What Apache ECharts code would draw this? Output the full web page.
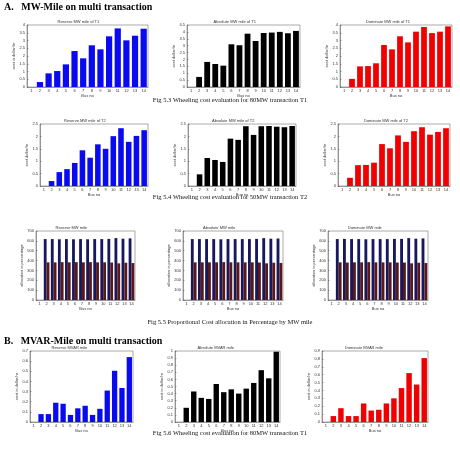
<!DOCTYPE html>
<html>
<head>
<meta charset="utf-8">
<script src="https://cdn.jsdelivr.net/npm/echarts@6/dist/echarts.min.js"></script>
<style>
  html, body { margin: 0; padding: 0; background: #fff; }
  #chart { width: 460px; height: 475px; }
</style>
</head>
<body>
<div id="chart"></div>
<script>
// bus numbers on every x axis
const buses = ['1', '2', '3', '4', '5', '6', '7', '8', '9', '10', '11', '12', '13', '14'];

// MW-mile, transaction T1 (80MW)
const reserveT1 = [0, 0.32, 0.88, 1.03, 1.46, 2.32, 1.85, 2.69, 2.43, 3.27, 3.78, 3.01, 3.31, 3.76];
const absoluteT1 = [0, 0.73, 1.82, 1.67, 1.55, 3.10, 3.03, 3.87, 3.34, 3.92, 3.95, 4.00, 3.90, 4.07];
const dominateT1 = [0, 0.52, 1.33, 1.35, 1.53, 2.71, 2.43, 3.27, 2.88, 3.57, 3.87, 3.48, 3.57, 3.91];

// MW-mile, transaction T2 (50MW)
const reserveT2 = [0, 0.20, 0.56, 0.68, 0.93, 1.44, 1.14, 1.68, 1.50, 2.01, 2.33, 1.78, 2.02, 2.25];
const absoluteT2 = [0, 0.47, 1.13, 1.05, 0.97, 1.91, 1.86, 2.41, 2.06, 2.41, 2.42, 2.39, 2.37, 2.42];
const dominateT2 = [0, 0.33, 0.84, 0.85, 0.94, 1.69, 1.52, 2.04, 1.78, 2.21, 2.37, 2.07, 2.18, 2.33];

// proportional allocation (percentage x10), two transactions per bus
const shareReserveA = [0, 618, 618, 616, 618, 616, 618, 616, 618, 618, 620, 628, 622, 625];
const shareReserveB = [0, 382, 382, 384, 382, 384, 382, 384, 382, 382, 380, 372, 378, 375];
const shareAbsoluteA = [0, 618, 618, 618, 618, 616, 618, 618, 618, 618, 620, 628, 622, 624];
const shareAbsoluteB = [0, 382, 382, 382, 382, 384, 382, 382, 382, 382, 380, 372, 378, 376];
const shareDominateA = [0, 618, 620, 618, 618, 616, 618, 618, 618, 620, 620, 628, 622, 625];
const shareDominateB = [0, 382, 380, 382, 382, 384, 382, 382, 382, 380, 380, 372, 378, 375];

// MVAR-mile, transaction T1
const reserveQ = [0, 0.078, 0.078, 0.19, 0.18, 0.07, 0.135, 0.16, 0.07, 0.13, 0.31, 0.505, 0.335, 0.64];
const absoluteQ = [0, 0.20, 0.43, 0.34, 0.325, 0.535, 0.42, 0.46, 0.40, 0.47, 0.55, 0.73, 0.615, 0.99];
const dominateQ = [0, 0.075, 0.175, 0.075, 0.075, 0.235, 0.145, 0.155, 0.235, 0.30, 0.43, 0.62, 0.475, 0.81];

const serif = '"Liberation Serif", "DejaVu Serif", serif';
const sans = '"Liberation Sans", Arial, sans-serif';

// one panel per small plot
const panels = [
  { box: [27, 25, 121, 62], max: 4, step: 0.5, title: 'Reserve MW mile of T1', yName: 'cost in dollar/hr', series: [[reserveT1, '#0a0af0']] },
  { box: [187, 25, 113, 62], max: 4.5, step: 0.5, title: 'Absolute MW mile of T1', yName: 'cost dollar/hr', series: [[absoluteT1, '#000000']] },
  { box: [340, 25, 112, 62], max: 4, step: 0.5, title: 'Dominate MW mile of T1', yName: 'cost dollar/hr', series: [[dominateT1, '#f00000']] },
  { box: [40, 124, 108, 62], max: 2.5, step: 0.5, title: 'Reserve MW mile of T2', yName: 'cost dollar/hr', series: [[reserveT2, '#0a0af0']] },
  { box: [188, 124, 108, 62], max: 2.5, step: 0.5, title: 'Absolute MW mile of T2', yName: 'cost dollar/hr', series: [[absoluteT2, '#000000']] },
  { box: [338, 124, 112, 62], max: 2.5, step: 0.5, title: 'Dominate MW mile of T2', yName: 'cost dollar/hr', series: [[dominateT2, '#f00000']] },
  { box: [36, 231, 99, 69], max: 700, step: 100, title: 'Reserve MW mile', yName: 'allocation in percentage', series: [[shareReserveA, '#18185e'], [shareReserveB, '#5a1818']] },
  { box: [183, 231, 100, 69], max: 700, step: 100, title: 'Absolute MW mile', yName: 'allocation in percentage', series: [[shareAbsoluteA, '#18185e'], [shareAbsoluteB, '#5a1818']] },
  { box: [328, 231, 100, 69], max: 700, step: 100, title: 'Dominate MW mile', yName: 'allocation in percentage', series: [[shareDominateA, '#18185e'], [shareDominateB, '#5a1818']] },
  { box: [30, 351, 103, 71], max: 0.7, step: 0.1, title: 'Reserve MVAR mile', yName: 'cost in dollar/hr', series: [[reserveQ, '#0a0af0']] },
  { box: [175, 351, 105, 71], max: 1, step: 0.1, title: 'Absolute MVAR mile', yName: 'cost in dollar/hr', series: [[absoluteQ, '#000000']] },
  { box: [322, 351, 106, 71], max: 0.9, step: 0.1, title: 'Dominate MVAR mile', yName: 'cost in dollar/hr', series: [[dominateQ, '#f00000']] }
];

const tiny = { fontSize: 4, color: '#333', fontFamily: sans };

const grid = [], xAxis = [], yAxis = [], series = [], graphic = [];

panels.forEach((p, i) => {
  const [l, t, w, h] = p.box;
  grid.push({ left: l, top: t, width: w, height: h, show: true, borderColor: '#555', borderWidth: 0.5, backgroundColor: '#fff' });
  xAxis.push({
    type: 'category', gridIndex: i, data: buses,
    name: 'Bus no', nameLocation: 'middle', nameGap: 6, nameTextStyle: tiny,
    axisLine: { lineStyle: { color: '#555', width: 0.5 } },
    axisTick: { inside: true, length: 1.5, alignWithLabel: true, lineStyle: { color: '#555', width: 0.5 } },
    axisLabel: { ...tiny, margin: 2, interval: 0 }
  });
  yAxis.push({
    type: 'value', gridIndex: i, min: 0, max: p.max, interval: p.step,
    name: p.yName, nameLocation: 'middle', nameGap: 10, nameRotate: 90, nameTextStyle: tiny,
    axisLine: { show: true, lineStyle: { color: '#555', width: 0.5 } },
    axisTick: { show: true, inside: true, length: 1.5, lineStyle: { color: '#555', width: 0.5 } },
    splitLine: { show: false },
    axisLabel: { ...tiny, margin: 2 }
  });
  const grouped = p.series.length > 1;
  p.series.forEach(([values, color]) => {
    series.push({
      type: 'bar', xAxisIndex: i, yAxisIndex: i, data: values,
      barWidth: grouped ? '40%' : '72%', barGap: '0%',
      itemStyle: { color: color, borderWidth: 0 },
      silent: true, animation: false
    });
  });
  graphic.push({
    type: 'text', left: l + w / 2 - 30, top: t - 5,
    style: { text: p.title, x: 0, y: 0, width: 60, align: 'center', font: '4px ' + sans, fill: '#333' }
  });
});

const caption = (text, y) => ({
  type: 'text', left: 'center', top: y,
  style: { text: text, font: '6.5px ' + serif, fill: '#111' }
});
const heading = (text, y) => ({
  type: 'text', left: 4, top: y,
  style: { text: text, font: 'bold 10px ' + serif, fill: '#000' }
});

graphic.push(
  heading('A.   MW-Mile on multi transaction', 2),
  caption('Fig 5.3 Wheeling cost evaluation for 80MW transaction T1', 97),
  caption('Fig 5.4 Wheeling cost evaluation for 50MW transaction T2', 194),
  caption('Fig 5.5 Proportional Cost allocation in Percentage by MW mile', 319),
  heading('B.   MVAR-Mile on multi transaction', 336),
  caption('Fig 5.6 Wheeling cost evaluation for 80MW transaction T1', 430)
);

const chart = echarts.init(document.getElementById('chart'), null, { renderer: 'canvas' });
chart.setOption({
  backgroundColor: '#fff',
  animation: false,
  grid, xAxis, yAxis, series, graphic
});
</script>
</body>
</html>
